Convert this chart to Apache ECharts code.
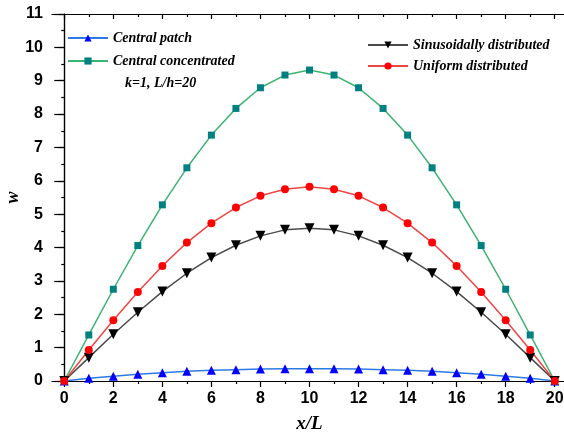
<!DOCTYPE html>
<html>
<head>
<meta charset="utf-8">
<script src="https://cdn.jsdelivr.net/npm/echarts@6/dist/echarts.min.js"></script>
<style>
  html, body { margin: 0; padding: 0; background: #fff; }
  #main { width: 564px; height: 436px; }
</style>
</head>
<body>
<div id="main"></div>
<script>
// x/L positions
var xs = [0, 1, 2, 3, 4, 5, 6, 7, 8, 9, 10, 11, 12, 13, 14, 15, 16, 17, 18, 19, 20];

// deflection w
var patch = [0, 0.08, 0.14, 0.2, 0.25, 0.29, 0.32, 0.34, 0.36, 0.37, 0.37, 0.37, 0.36, 0.34, 0.32, 0.29, 0.25, 0.2, 0.14, 0.08, 0];
var concentrated = [0, 1.38, 2.75, 4.06, 5.28, 6.39, 7.37, 8.17, 8.79, 9.17, 9.32, 9.17, 8.79, 8.17, 7.37, 6.39, 5.28, 4.06, 2.75, 1.38, 0];
var sinusoidal = [0, 0.7, 1.4, 2.06, 2.68, 3.23, 3.7, 4.07, 4.35, 4.53, 4.58, 4.53, 4.35, 4.07, 3.7, 3.23, 2.68, 2.06, 1.4, 0.7, 0];
var uniform = [0, 0.93, 1.82, 2.67, 3.45, 4.15, 4.73, 5.2, 5.55, 5.75, 5.82, 5.75, 5.55, 5.2, 4.73, 4.15, 3.45, 2.67, 1.82, 0.93, 0];

var majorX = [0, 2, 4, 6, 8, 10, 12, 14, 16, 18, 20];
var minorX = [1, 3, 5, 7, 9, 11, 13, 15, 17, 19];

function pairs(ys) {
  return xs.map(function (x, i) { return [x, ys[i]]; });
}

var serifFont = '"Liberation Serif", "Times New Roman", serif';
var sansFont = '"Liberation Sans", Arial, sans-serif';

function mkSeries(name, ys, lineColor, markColor, symbol, size, rotate) {
  return {
    name: name,
    type: 'line',
    data: pairs(ys),
    symbol: symbol,
    symbolSize: size,
    symbolRotate: rotate || 0,
    showAllSymbol: true,
    lineStyle: { color: lineColor, width: 1.5 },
    itemStyle: { color: markColor, borderWidth: 0 },
    emphasis: { disabled: true },
    z: 3
  };
}

function xAxisPart(pos, ticks, len, inside, showLine, labels) {
  return {
    type: 'value',
    position: pos,
    min: -0.5,
    max: 20.5,
    axisLine: { show: showLine, onZero: false, lineStyle: { color: '#000', width: 1.2 } },
    axisTick: { show: true, inside: inside, length: len, customValues: ticks, lineStyle: { color: '#000', width: 1.2 } },
    axisLabel: labels ? {
      show: true, customValues: majorX, margin: 10,
      color: '#000', fontFamily: sansFont, fontWeight: 'bold', fontSize: 16
    } : { show: false },
    splitLine: { show: false }
  };
}

var chart = echarts.init(document.getElementById('main'), null, { renderer: 'canvas' });

var xMain = xAxisPart('bottom', majorX, 6, false, true, true);
xMain.name = 'x/L';
xMain.nameLocation = 'middle';
xMain.nameGap = 34;
xMain.nameMoveOverlap = false;
xMain.nameTextStyle = { color: '#000', fontFamily: serifFont, fontWeight: 'bold', fontStyle: 'italic', fontSize: 19 };

var option = {
  animation: false,
  backgroundColor: '#fff',
  grid: { left: 52, right: -3, top: 14, bottom: 55, containLabel: false, outerBoundsMode: 'none' },
  legend: [{
    orient: 'vertical',
    left: 62,
    top: 26,
    itemWidth: 40,
    itemHeight: 9,
    itemGap: 9,
    data: ['Central patch', 'Central concentrated'],
    textStyle: { color: '#000', fontFamily: serifFont, fontWeight: 'bold', fontStyle: 'italic', fontSize: 14 }
  }, {
    orient: 'vertical',
    left: 362,
    top: 33,
    itemWidth: 40,
    itemHeight: 9,
    itemGap: 7,
    data: ['Sinusoidally distributed', 'Uniform distributed'],
    textStyle: { color: '#000', fontFamily: serifFont, fontWeight: 'bold', fontStyle: 'italic', fontSize: 14 }
  }],
  graphic: [{
    type: 'text',
    left: 125,
    top: 76,
    style: {
      text: 'k=1, L/h=20',
      fill: '#000',
      font: 'italic bold 14px ' + serifFont
    }
  }],
  xAxis: [
    xMain,
    xAxisPart('bottom', minorX, 3, false, false, false),
    xAxisPart('top', majorX, 5, true, true, false),
    xAxisPart('top', minorX, 3, true, false, false)
  ],
  yAxis: [{
    type: 'value',
    position: 'left',
    min: 0,
    max: 11,
    interval: 1,
    name: 'w',
    nameLocation: 'middle',
    nameGap: 30,
    nameMoveOverlap: false,
    nameRotate: 90,
    nameTextStyle: { color: '#000', fontFamily: serifFont, fontWeight: 'bold', fontStyle: 'italic', fontSize: 18 },
    axisLine: { show: true, lineStyle: { color: '#000', width: 1.2 } },
    axisTick: { show: true, inside: false, length: 6, lineStyle: { color: '#000', width: 1.2 } },
    minorTick: { show: true, splitNumber: 2, length: 3, lineStyle: { color: '#000', width: 1.2 } },
    axisLabel: { color: '#000', fontFamily: sansFont, fontWeight: 'bold', fontSize: 16, margin: 9 },
    splitLine: { show: false }
  }, {
    type: 'value',
    position: 'right',
    min: 0,
    max: 11,
    interval: 1,
    axisLine: { show: true, lineStyle: { color: '#000', width: 1.2 } },
    axisTick: { show: true, inside: true, length: 10, lineStyle: { color: '#000', width: 1.2 } },
    axisLabel: { show: false },
    splitLine: { show: false }
  }],
  series: [
    mkSeries('Central patch', patch, '#2C7BE5', '#0000FF', 'triangle', 9),
    mkSeries('Central concentrated', concentrated, '#3CB371', '#008080', 'rect', 7),
    mkSeries('Sinusoidally distributed', sinusoidal, '#4A4A4A', '#000000', 'triangle', 10, 180),
    mkSeries('Uniform distributed', uniform, '#F04545', '#FF0000', 'circle', 8)
  ]
};

chart.setOption(option);
</script>
</body>
</html>
